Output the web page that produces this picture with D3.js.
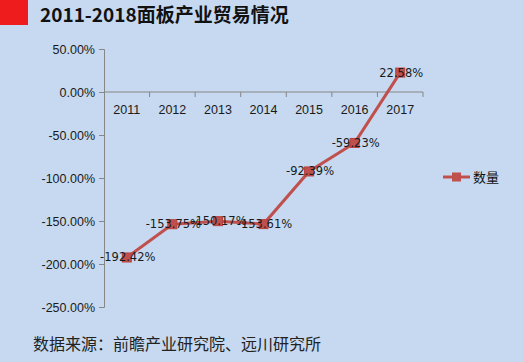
<!DOCTYPE html>
<html lang="zh">
<head>
<meta charset="utf-8">
<title>2011-2018面板产业贸易情况</title>
<script src="https://cdn.jsdelivr.net/npm/d3@7/dist/d3.min.js"></script>
<style>
  body { margin: 0; background: #c6d9f0; }
  svg { display: block; }
  .axis path, .axis line { stroke: #868686; }
  .axis text { font-family: "Liberation Sans", sans-serif; font-size: 12.5px; fill: #1a1a1a; }
</style>
</head>
<body>
<script>
var years = ["2011", "2012", "2013", "2014", "2015", "2016", "2017"];
var values = [-192.42, -153.75, -150.17, -153.61, -92.39, -59.23, 22.58];
var yTicks = [50, 0, -50, -100, -150, -200, -250];
var seriesName = "数量";

var W = 523, H = 362;

var svg = d3.select("body").append("svg")
  .attr("width", W).attr("height", H);

svg.append("rect").attr("width", W).attr("height", H).attr("fill", "#c6d9f0");

// title block
svg.append("rect").attr("x", 0).attr("y", 0).attr("width", 28).attr("height", 25).attr("fill", "#ee1c1c");
svg.append("text")
  .attr("x", 40).attr("y", 22)
  .attr("font-family", "'Noto Sans CJK SC', sans-serif")
  .attr("font-weight", "bold").attr("font-size", 19)
  .attr("fill", "#111")
  .text("2011-2018面板产业贸易情况");

var x = d3.scaleBand().domain(years).range([104, 423]);
var y = d3.scaleLinear().domain([-250, 50]).range([307, 49]);

// y axis
svg.append("g").attr("class", "axis")
  .attr("transform", "translate(104,0)")
  .call(d3.axisLeft(y).tickValues(yTicks).tickSize(5).tickPadding(4)
    .tickFormat(function(d) { return d.toFixed(2) + "%"; }));

// x axis at zero
var xa = svg.append("g").attr("class", "axis")
  .attr("transform", "translate(0," + y(0) + ")")
  .call(d3.axisBottom(x).tickSize(0).tickPadding(13));
xa.select(".domain").attr("d", "M104,0H423");
xa.selectAll(".tick line").remove();
xa.selectAll(".sep").data(years).enter().append("line")
  .attr("x1", function(d) { return x(d) + x.bandwidth(); })
  .attr("x2", function(d) { return x(d) + x.bandwidth(); })
  .attr("y1", 0).attr("y2", 5).attr("stroke", "#868686");

// line
var pts = years.map(function(d, i) { return [x(d) + x.bandwidth() / 2, y(values[i])]; });
svg.append("path")
  .attr("d", d3.line()(pts))
  .attr("fill", "none").attr("stroke", "#c0504d").attr("stroke-width", 3);

svg.selectAll(".mk").data(pts).enter().append("rect")
  .attr("x", function(d) { return d[0] - 4.5; })
  .attr("y", function(d) { return d[1] - 4.5; })
  .attr("width", 9).attr("height", 9)
  .attr("fill", "#c0504d").attr("stroke", "#b9403d");

svg.selectAll(".lbl").data(pts).enter().append("text")
  .attr("x", function(d) { return d[0] + 1; })
  .attr("y", function(d) { return d[1] + 4; })
  .attr("text-anchor", "middle")
  .attr("font-family", "'DejaVu Sans', sans-serif").attr("font-size", 11.5)
  .attr("fill", "#1a1a1a")
  .text(function(d, i) { return values[i].toFixed(2) + "%"; });

// legend
var lg = svg.append("g").attr("transform", "translate(443,177)");
lg.append("line").attr("x1", 0).attr("x2", 27).attr("stroke", "#c0504d").attr("stroke-width", 3);
lg.append("rect").attr("x", 9).attr("y", -4.5).attr("width", 9).attr("height", 9).attr("fill", "#c0504d");
lg.append("text").attr("x", 30).attr("y", 5)
  .attr("font-family", "'Noto Sans CJK SC', sans-serif").attr("font-size", 13)
  .attr("fill", "#111").text(seriesName);

// source
svg.append("text")
  .attr("x", 33).attr("y", 350)
  .attr("font-family", "'Noto Sans CJK SC', sans-serif").attr("font-size", 16)
  .attr("fill", "#222")
  .text("数据来源：前瞻产业研究院、远川研究所");
</script>
</body>
</html>
